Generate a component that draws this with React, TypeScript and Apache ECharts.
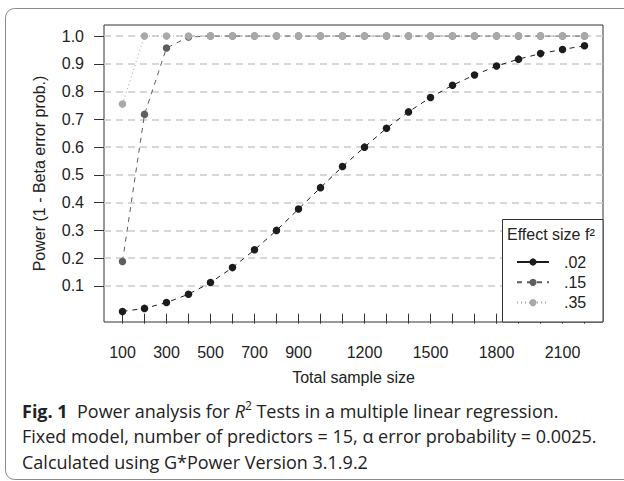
import React, { useEffect, useRef } from 'react';
import * as echarts from 'echarts';

const sampleSizes = [100, 200, 300, 400, 500, 600, 700, 800, 900, 1000, 1100, 1200, 1300, 1400, 1500, 1600, 1700, 1800, 1900, 2000, 2100, 2200];
const xTickValues = [100, 200, 300, 400, 500, 600, 700, 800, 900, 1000, 1100, 1200, 1300, 1400, 1500, 1600, 1700, 1800, 1900, 2000, 2100, 2200];
const xLabelValues = [100, 300, 500, 700, 900, 1200, 1500, 1800, 2100];
const yTickValues = [0.1, 0.2, 0.3, 0.4, 0.5, 0.6, 0.7, 0.8, 0.9, 1.0];
const seriesNames = ['.02', '.15', '.35'];
const power02 = [0.008, 0.019, 0.04, 0.07, 0.112, 0.166, 0.23, 0.3, 0.377, 0.454, 0.53, 0.6, 0.668, 0.727, 0.779, 0.823, 0.86, 0.892, 0.917, 0.937, 0.952, 0.965];
const power15 = [0.188, 0.718, 0.957, 0.997, 1, 1, 1, 1, 1, 1, 1, 1, 1, 1, 1, 1, 1, 1, 1, 1, 1, 1];
const power35 = [0.755, 1, 1, 1, 1, 1, 1, 1, 1, 1, 1, 1, 1, 1, 1, 1, 1, 1, 1, 1, 1, 1];

const AX_FONT = '"Liberation Sans", Arial, sans-serif';
const CAP_FONT = '"Open Sans", "Noto Sans", sans-serif';
const CAP_SIZE = 18;

export default function App() {
  const ref = useRef<HTMLDivElement>(null);
  useEffect(() => {
    const chart = echarts.init(ref.current as HTMLDivElement, null, { renderer: 'svg' });
    const pair = (ys: number[]) => sampleSizes.map((x, i) => [x, ys[i]]);
    const mkSeries = (name: string, ys: number[], color: string, dash: any, z: number) => ({
      type: 'line',
      name,
      data: pair(ys),
      symbol: 'circle',
      symbolSize: 7.5,
      showSymbol: true,
      z,
      itemStyle: { color, borderWidth: 0 },
      lineStyle: { color, width: 1, type: dash },
      emphasis: { disabled: true },
    });
    chart.setOption({
      animation: false,
      backgroundColor: '#ffffff',
      grid: {
        left: 104, top: 25, right: 21, bottom: 159,
        show: true, borderColor: '#333333', borderWidth: 1, backgroundColor: 'transparent',
      },
      xAxis: {
        type: 'value', min: 16, max: 2284,
        name: 'Total sample size', nameLocation: 'middle', nameGap: 47,
        nameTextStyle: { fontSize: 16, color: '#222', fontFamily: AX_FONT },
        axisLine: { show: false },
        axisTick: { show: true, inside: false, length: 10, customValues: xTickValues, lineStyle: { color: '#333', width: 1 } },
        axisLabel: { customValues: xLabelValues, margin: 22, fontSize: 16, color: '#222', fontFamily: AX_FONT, formatter: (v: number) => String(v) },
        splitLine: { show: false },
      },
      yAxis: {
        type: 'value', min: -0.03, max: 1.04,
        name: 'Power (1 - Beta error prob.)', nameLocation: 'middle', nameGap: 57,
        nameTextStyle: { fontSize: 16, color: '#222', fontFamily: AX_FONT },
        axisLine: { show: false },
        axisTick: { show: true, inside: false, length: 10, customValues: yTickValues, lineStyle: { color: '#333', width: 1 } },
        axisLabel: { customValues: yTickValues, margin: 20, fontSize: 16, color: '#222', fontFamily: AX_FONT, formatter: (v: number) => v.toFixed(1) },
        splitLine: { show: false },
      },
      legend: {
        orient: 'vertical', left: 516, top: 254, padding: 0,
        itemWidth: 32, itemHeight: 9, itemGap: 4.3,
        selectedMode: false, z: 20,
        textStyle: { fontSize: 16, color: '#222', fontFamily: AX_FONT, padding: [0, 0, 0, 10] },
        data: [
          { name: seriesNames[0], lineStyle: { type: 'solid' } },
          { name: seriesNames[1] },
          { name: seriesNames[2] },
        ],
      },
      graphic: [
        {
          type: 'rect', z: -10, silent: true,
          shape: { x: 5.5, y: 8.5, width: 640, height: 471, r: 9 },
          style: { fill: 'none', stroke: '#8a8a8a', lineWidth: 1 },
        },
        {
          type: 'rect', z: 10, silent: true,
          shape: { x: 502.5, y: 219.5, width: 100.5, height: 102.5 },
          style: { fill: '#ffffff', stroke: '#333333', lineWidth: 1 },
        },
        {
          type: 'text', z: 11, left: 507, top: 226, silent: true,
          style: { text: 'Effect size f²', fontSize: 16, fontFamily: AX_FONT, fill: '#222' },
        },
        {
          type: 'text', left: 22, top: 399.5, silent: true,
          style: {
            text: '{b|Fig. 1}  Power analysis for {i|R}{s|2} Tests in a multiple linear regression.',
            fontSize: CAP_SIZE, fontFamily: CAP_FONT, fill: '#222', lineHeight: 22,
            rich: {
              b: { fontWeight: 'bold', fontSize: CAP_SIZE, fontFamily: CAP_FONT, fill: '#222', lineHeight: 22 },
              i: { fontStyle: 'italic', fontSize: CAP_SIZE, fontFamily: CAP_FONT, fill: '#222', lineHeight: 22 },
              s: { fontSize: 12, fontFamily: CAP_FONT, fill: '#222', verticalAlign: 'top', lineHeight: 12 },
            },
          },
        },
        {
          type: 'text', left: 22, top: 425, silent: true,
          style: {
            text: 'Fixed model, number of predictors = 15, \u03b1 error probability = 0.0025.',
            fontSize: CAP_SIZE, fontFamily: CAP_FONT, fill: '#222', lineHeight: 22,
          },
        },
        {
          type: 'text', left: 22, top: 450.5, silent: true,
          style: {
            text: 'Calculated using G*Power Version 3.1.9.2',
            fontSize: CAP_SIZE, fontFamily: CAP_FONT, fill: '#222', lineHeight: 22,
          },
        },
      ],
      series: [
        {
          type: 'line', name: 'grid', data: [], z: 1, silent: true,
          markLine: {
            z: 1, silent: true, symbol: ['none', 'none'], label: { show: false },
            lineStyle: { color: '#cccccc', width: 1.5, type: [7, 5] },
            emphasis: { disabled: true },
            data: yTickValues.map((v) => ({ yAxis: v })),
          },
        },
        mkSeries(seriesNames[0], power02, '#1c1c1c', [5, 5], 3),
        mkSeries(seriesNames[1], power15, '#5e5e5e', [5, 5], 4),
        mkSeries(seriesNames[2], power35, '#a9a9a9', [1, 3], 5),
      ],
    });
    return () => chart.dispose();
  }, []);
  return <div ref={ref} style={{ position: 'fixed', left: 0, top: 0, width: 624, height: 481 }} />;
}
